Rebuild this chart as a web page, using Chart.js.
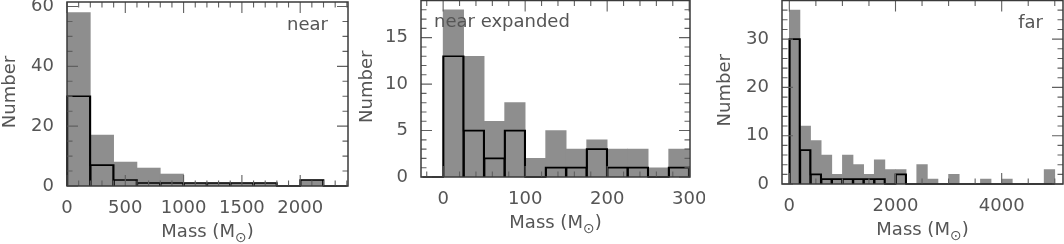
<!DOCTYPE html>
<html>
<head>
<meta charset="utf-8">
<script src="https://cdn.jsdelivr.net/npm/chart.js@4.4.1/dist/chart.umd.min.js"></script>
<style>
body { margin: 0; background: #fff; }
.panel { position: absolute; top: 0; height: 244px; }
</style>
</head>
<body>
<div class="panel" style="left:0px;width:355px"><canvas id="cNear" width="355" height="244"></canvas></div>
<div class="panel" style="left:355px;width:350px"><canvas id="cExp" width="350" height="244"></canvas></div>
<div class="panel" style="left:705px;width:359px"><canvas id="cFar" width="359" height="244"></canvas></div>
<script>
// lower bin edges + counts. gray = all clumps, black outline = subset
var nearBins = [0, 200, 400, 600, 800, 1000, 1200, 1400, 1600, 1800, 2000, 2200];
var nearAll = [58, 17, 8, 6, 4, 1, 1, 1, 1, 0, 2, 0];
var nearSub = [30, 7, 2, 1, 1, 1, 1, 1, 1, 0, 2, 0];
var nearXTicks = [0, 500, 1000, 1500, 2000];
var nearYTicks = [0, 20, 40, 60];

var expBins = [-25, 0, 25, 50, 75, 100, 125, 150, 175, 200, 225, 250, 275];
var expAll = [0, 18, 13, 6, 8, 2, 5, 3, 4, 3, 3, 1, 3];
var expSub = [0, 13, 5, 2, 5, 0, 1, 1, 3, 1, 1, 0, 1];
var expXTicks = [0, 100, 200, 300];
var expYTicks = [0, 5, 10, 15];

var farBins = [0, 200, 400, 600, 800, 1000, 1200, 1400, 1600, 1800, 2000, 2200, 2400,
	2600, 2800, 3000, 3200, 3400, 3600, 3800, 4000, 4200, 4400, 4600, 4800];
var farAll = [36, 12, 9, 6, 2, 6, 4, 2, 5, 3, 3, 0, 4, 1, 0, 2, 0, 0, 1, 0, 1, 0, 0, 0, 3];
var farSub = [30, 7, 2, 1, 1, 1, 1, 1, 1, 0, 2, 0, 0, 0, 0, 0, 0, 0, 0, 0, 0, 0, 0, 0, 0];
var farXTicks = [0, 2000, 4000];
var farYTicks = [0, 10, 20, 30];

var FONT = '"DejaVu Sans", sans-serif';
var TXT = '#555';

// box + inward ticks on all 4 sides, axis titles, panel label
var framePlugin = {
	id: 'frame',
	afterDatasetsDraw: function (chart, args, o) {
		var ctx = chart.ctx, a = chart.chartArea;
		var xs = chart.scales.x, ys = chart.scales.y;
		ctx.save();
		ctx.strokeStyle = '#606060';
		ctx.lineWidth = 1.1;
		var v, p, len;
		for (v = Math.ceil(xs.min / o.xMinor) * o.xMinor; v <= xs.max; v += o.xMinor) {
			p = xs.getPixelForValue(v);
			len = (Math.abs(v % o.xMajor) < 1e-6) ? 11 : 5.5;
			ctx.beginPath();
			ctx.moveTo(p, a.bottom); ctx.lineTo(p, a.bottom - len);
			ctx.moveTo(p, a.top); ctx.lineTo(p, a.top + len);
			ctx.stroke();
		}
		for (v = Math.ceil(ys.min / o.yMinor) * o.yMinor; v <= ys.max; v += o.yMinor) {
			p = ys.getPixelForValue(v);
			len = (Math.abs(v % o.yMajor) < 1e-6) ? 11 : 5.5;
			ctx.beginPath();
			ctx.moveTo(a.left, p); ctx.lineTo(a.left + len, p);
			ctx.moveTo(a.right, p); ctx.lineTo(a.right - len, p);
			ctx.stroke();
		}
		ctx.strokeStyle = '#3a3a3a';
		ctx.lineWidth = 1.5;
		ctx.strokeRect(a.left, a.top, a.right - a.left, a.bottom - a.top);

		ctx.fillStyle = TXT;
		// y title
		ctx.save();
		ctx.translate(o.yTitleX, (a.top + a.bottom) / 2 - 2);
		ctx.rotate(-Math.PI / 2);
		ctx.font = '18px ' + FONT;
		ctx.textAlign = 'center';
		ctx.textBaseline = 'alphabetic';
		ctx.fillText('Number', 0, 0);
		ctx.restore();
		// x title with subscript sun symbol
		ctx.textBaseline = 'alphabetic';
		ctx.textAlign = 'left';
		var big = '18px ' + FONT, small = '14px ' + FONT;
		ctx.font = big;
		var w1 = ctx.measureText('Mass (M').width, w3 = ctx.measureText(')').width;
		ctx.font = small;
		var w2 = ctx.measureText('\u2299').width;
		var x0 = (a.left + a.right) / 2 - (w1 + w2 + w3) / 2, yb = a.bottom + 50.5;
		ctx.font = big;
		ctx.fillText('Mass (M', x0, yb);
		ctx.font = small;
		ctx.fillText('\u2299', x0 + w1, yb + 5);
		ctx.font = big;
		ctx.fillText(')', x0 + w1 + w2, yb);
		// panel label
		ctx.textAlign = o.labelAlign;
		ctx.fillText(o.label, o.labelX, o.labelY);
		ctx.restore();
	}
};

function histChart(id, bins, binW, all, sub, xTicks, yTicks, ax) {
	var grayBars = bins.map(function (b, i) { return { x: b + binW / 2, y: all[i] }; });
	var blackBars = bins.map(function (b, i) { return { x: b + binW / 2, y: sub[i] }; });
	// outer contour of the subset histogram (also covers empty bins)
	var steps = [{ x: bins[0], y: 0 }];
	bins.forEach(function (b, i) { steps.push({ x: b, y: sub[i] }); });
	steps.push({ x: bins[bins.length - 1] + binW, y: 0 });
	var tickFont = { family: FONT, size: 18 };
	var W = document.getElementById(id).width;
	var plain = function (v) { return String(v); };

	return new Chart(document.getElementById(id), {
		type: 'bar',
		data: {
			datasets: [{
				type: 'line',
				data: steps,
				stepped: 'before',
				borderColor: '#000',
				borderWidth: 1.7,
				pointRadius: 0,
				fill: false,
				clip: false,
				order: 0
			}, {
				data: blackBars,
				backgroundColor: 'rgba(0,0,0,0)',
				borderColor: '#000',
				borderWidth: { left: 0.9, right: 0.9, top: 0, bottom: 0 },
				barPercentage: 1,
				categoryPercentage: 1,
				grouped: false,
				order: 1
			}, {
				data: grayBars,
				backgroundColor: '#8e8e8e',
				borderWidth: 0,
				barPercentage: 1,
				categoryPercentage: 1,
				grouped: false,
				order: 2
			}]
		},
		options: {
			responsive: false,
			animation: false,
			events: [],
			layout: { padding: { left: 0, top: ax.top, right: W - ax.right, bottom: 0 } },
			plugins: {
				legend: { display: false },
				tooltip: { enabled: false },
				frame: ax.frame
			},
			scales: {
				x: {
					type: 'linear',
					min: ax.xMin, max: ax.xMax,
					offset: false,
					grid: { display: false, drawTicks: false },
					border: { display: false },
					ticks: { autoSkip: false, maxRotation: 0, padding: 12, color: TXT, font: tickFont, callback: plain },
					afterBuildTicks: function (s) { s.ticks = xTicks.map(function (v) { return { value: v }; }); },
					afterFit: function (s) { s.height = 244 - ax.bottom; s.paddingLeft = 0; s.paddingRight = 0; }
				},
				y: {
					min: 0, max: ax.yMax,
					grid: { display: false, drawTicks: false },
					border: { display: false },
					ticks: { autoSkip: false, padding: 13, color: TXT, font: tickFont, callback: plain },
					afterBuildTicks: function (s) { s.ticks = yTicks.map(function (v) { return { value: v }; }); },
					afterFit: function (s) { s.width = ax.left; s.paddingTop = 0; s.paddingBottom = 0; }
				}
			}
		},
		plugins: [framePlugin]
	});
}

histChart('cNear', nearBins, 200, nearAll, nearSub, nearXTicks, nearYTicks, {
	left: 67, right: 348, top: 2, bottom: 186,
	xMin: 0, xMax: 2410, yMax: 61.5,
	frame: { xMajor: 500, xMinor: 100, yMajor: 20, yMinor: 5, yTitleX: 15,
		label: 'near', labelAlign: 'right', labelX: 328, labelY: 30 }
});
histChart('cExp', expBins, 25, expAll, expSub, expXTicks, expYTicks, {
	left: 66, right: 335, top: 0.5, bottom: 177,
	xMin: -27, xMax: 301, yMax: 19,
	frame: { xMajor: 100, xMinor: 20, yMajor: 5, yMinor: 1, yTitleX: 16.5,
		label: 'near expanded', labelAlign: 'left', labelX: 79, labelY: 26.5 }
});
histChart('cFar', farBins, 200, farAll, farSub, farXTicks, farYTicks, {
	left: 77, right: 358, top: 0.5, bottom: 184,
	xMin: -138, xMax: 5155, yMax: 38,
	frame: { xMajor: 2000, xMinor: 500, yMajor: 10, yMinor: 2, yTitleX: 25,
		label: 'far', labelAlign: 'right', labelX: 338, labelY: 28 }
});
</script>
</body>
</html>
